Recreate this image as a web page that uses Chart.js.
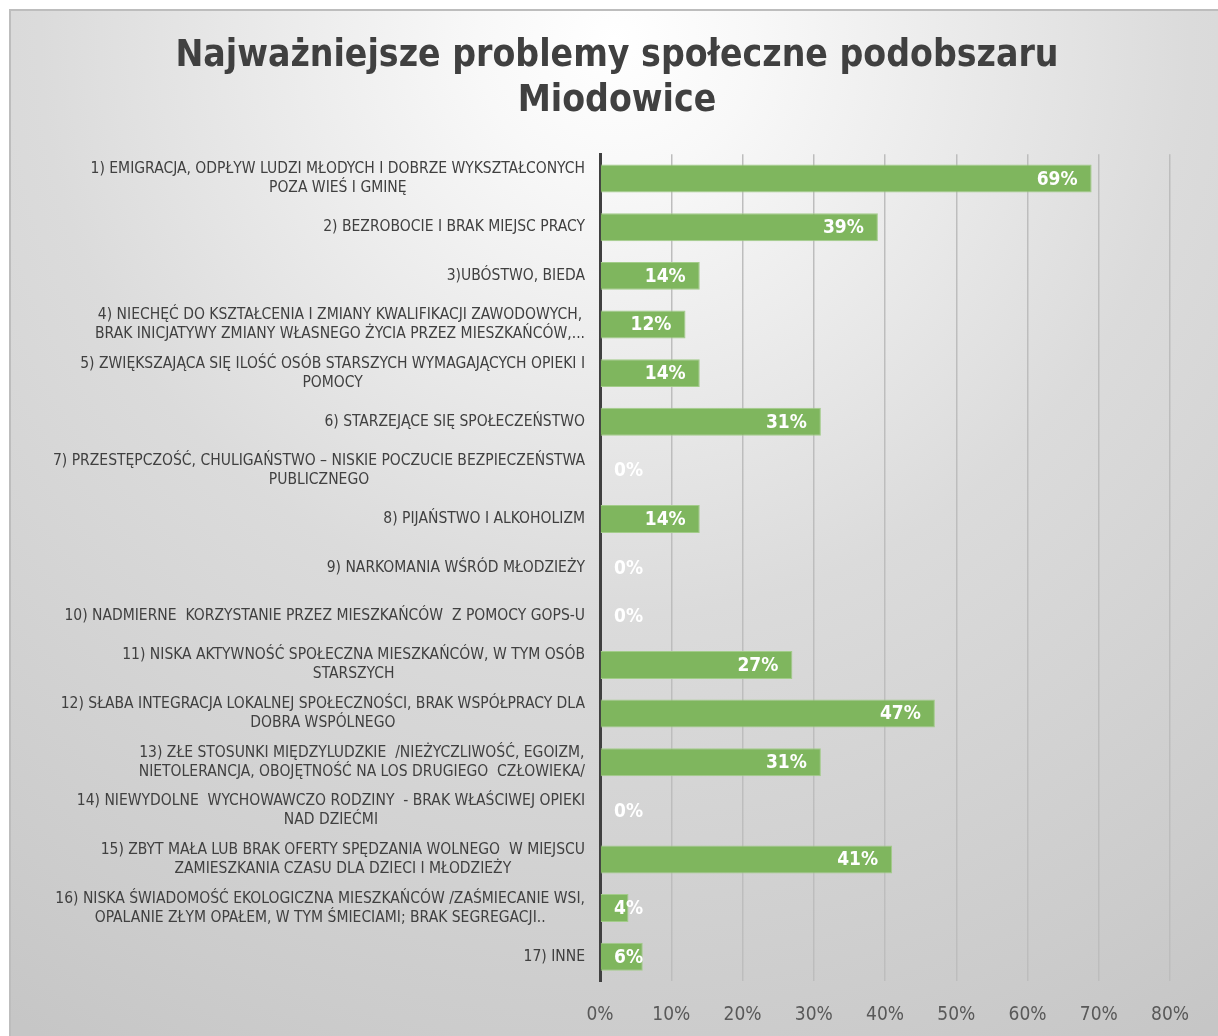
<!DOCTYPE html>
<html>
<head>
<meta charset="utf-8">
<script src="https://cdn.jsdelivr.net/npm/chart.js@4.4.1/dist/chart.umd.min.js"></script>
<style>
  html, body { margin: 0; padding: 0; background: #ffffff; overflow: hidden; }
  #wrap { width: 1218px; height: 1036px; position: relative; }
</style>
</head>
<body>
<div id="wrap"><canvas id="problemyChart"></canvas></div>
<script>
// Categories (each one split into the lines shown on the axis)
const categories = [
  ["1) EMIGRACJA, ODPŁYW LUDZI MŁODYCH I DOBRZE WYKSZTAŁCONYCH", "POZA WIEŚ I GMINĘ"],
  ["2) BEZROBOCIE I BRAK MIEJSC PRACY"],
  ["3)UBÓSTWO, BIEDA"],
  ["4) NIECHĘĆ DO KSZTAŁCENIA I ZMIANY KWALIFIKACJI ZAWODOWYCH,", "BRAK INICJATYWY ZMIANY WŁASNEGO ŻYCIA PRZEZ MIESZKAŃCÓW,..."],
  ["5) ZWIĘKSZAJĄCA SIĘ ILOŚĆ OSÓB STARSZYCH WYMAGAJĄCYCH OPIEKI I", "POMOCY"],
  ["6) STARZEJĄCE SIĘ SPOŁECZEŃSTWO"],
  ["7) PRZESTĘPCZOŚĆ, CHULIGAŃSTWO – NISKIE POCZUCIE BEZPIECZEŃSTWA", "PUBLICZNEGO"],
  ["8) PIJAŃSTWO I ALKOHOLIZM"],
  ["9) NARKOMANIA WŚRÓD MŁODZIEŻY"],
  ["10) NADMIERNE  KORZYSTANIE PRZEZ MIESZKAŃCÓW  Z POMOCY GOPS-U"],
  ["11) NISKA AKTYWNOŚĆ SPOŁECZNA MIESZKAŃCÓW, W TYM OSÓB", "STARSZYCH"],
  ["12) SŁABA INTEGRACJA LOKALNEJ SPOŁECZNOŚCI, BRAK WSPÓŁPRACY DLA", "DOBRA WSPÓLNEGO"],
  ["13) ZŁE STOSUNKI MIĘDZYLUDZKIE  /NIEŻYCZLIWOŚĆ, EGOIZM,", "NIETOLERANCJA, OBOJĘTNOŚĆ NA LOS DRUGIEGO  CZŁOWIEKA/"],
  ["14) NIEWYDOLNE  WYCHOWAWCZO RODZINY  - BRAK WŁAŚCIWEJ OPIEKI", "NAD DZIEĆMI"],
  ["15) ZBYT MAŁA LUB BRAK OFERTY SPĘDZANIA WOLNEGO  W MIEJSCU", "ZAMIESZKANIA CZASU DLA DZIECI I MŁODZIEŻY"],
  ["16) NISKA ŚWIADOMOŚĆ EKOLOGICZNA MIESZKAŃCÓW /ZAŚMIECANIE WSI,", "OPALANIE ZŁYM OPAŁEM, W TYM ŚMIECIAMI; BRAK SEGREGACJI.."],
  ["17) INNE"]
];

// Share of answers, percent
const values = [69, 39, 14, 12, 14, 31, 0, 14, 0, 0, 27, 47, 31, 0, 41, 4, 6];

// X axis
const xMax = 80;
const xStep = 10;

const titleLines = ["Najważniejsze problemy społeczne podobszaru", "Miodowice"];

const FONT = '"DejaVu Sans Condensed", "Liberation Sans Narrow", "DejaVu Sans", sans-serif';

// background: white page, grey frame, radial grey gradient
const backgroundPlugin = {
  id: 'bg',
  beforeDraw(chart) {
    const ctx = chart.ctx;
    const w = chart.width, h = chart.height;
    ctx.save();
    ctx.fillStyle = '#ffffff';
    ctx.fillRect(0, 0, w, h);
    const g = ctx.createRadialGradient(615, 40, 0, 615, 40, 1150);
    g.addColorStop(0, '#ffffff');
    g.addColorStop(0.12, '#f8f8f8');
    g.addColorStop(0.5, '#dbdbdb');
    g.addColorStop(0.87, '#cccccc');
    g.addColorStop(1, '#c6c6c6');
    ctx.fillStyle = g;
    ctx.fillRect(9, 9, w - 9, h - 9);
    ctx.fillStyle = '#bdbdbd';
    ctx.fillRect(9, 9, w - 9, 2);
    ctx.fillRect(9, 9, 2, h - 9);
    ctx.restore();
  }
};

// category labels: block right-aligned at the axis, lines centred inside the block
const categoryLabelPlugin = {
  id: 'catLabels',
  afterDraw(chart) {
    const ctx = chart.ctx;
    const y = chart.scales.y;
    const right = chart.chartArea.left - 15;
    const lh = 19;
    ctx.save();
    ctx.font = '15.5px ' + FONT;
    ctx.fillStyle = '#404040';
    ctx.textAlign = 'center';
    ctx.textBaseline = 'middle';
    categories.forEach((lines, i) => {
      const cy = y.getPixelForTick(i);
      const maxW = Math.max(...lines.map(l => ctx.measureText(l).width));
      const cx = right - maxW / 2;
      const top = cy - (lines.length - 1) * lh / 2;
      lines.forEach((l, k) => ctx.fillText(l, cx, top + k * lh));
    });
    ctx.restore();
  }
};

// value labels inside end of the bar, pushed right when the bar is too short
const valueLabelPlugin = {
  id: 'valueLabels',
  afterDatasetsDraw(chart) {
    const ctx = chart.ctx;
    const meta = chart.getDatasetMeta(0);
    const base = chart.scales.x.getPixelForValue(0);
    ctx.save();
    ctx.font = 'bold 19px ' + FONT;
    ctx.fillStyle = '#ffffff';
    ctx.textAlign = 'left';
    ctx.textBaseline = 'middle';
    meta.data.forEach((bar, i) => {
      const txt = values[i] + '%';
      const w = ctx.measureText(txt).width;
      const left = Math.max(bar.x - 14 - w, base + 14);
      ctx.fillText(txt, left, bar.y + 1);
    });
    ctx.restore();
  }
};

const config = {
  type: 'bar',
  data: {
    labels: categories,
    datasets: [{
      data: values,
      backgroundColor: '#7fb65e',
      borderColor: '#a3cc8a',
      borderWidth: 1,
      barPercentage: 0.575,
      categoryPercentage: 1
    }]
  },
  options: {
    indexAxis: 'y',
    responsive: true,
    maintainAspectRatio: false,
    animation: false,
    layout: { padding: { left: 64, right: 48, top: 0, bottom: 9 } },
    plugins: {
      legend: { display: false },
      tooltip: { enabled: false },
      title: {
        display: true,
        text: titleLines,
        color: '#404040',
        font: { family: FONT, size: 37, weight: 'bold', lineHeight: 1.22 },
        padding: { top: 34, bottom: 30 }
      }
    },
    scales: {
      x: {
        min: 0,
        max: xMax,
        ticks: {
          stepSize: xStep,
          padding: 23,
          color: '#595959',
          font: { family: FONT, size: 19 },
          callback: v => v + '%'
        },
        grid: { color: '#bdbdbd', lineWidth: 1.5, drawTicks: false },
        border: { display: false },
        afterFit(scale) { scale.height = 46; }
      },
      y: {
        ticks: { display: false },
        grid: { display: false },
        border: { display: true, color: '#404040', width: 3 },
        afterFit(scale) { scale.width = 536; }
      }
    }
  },
  plugins: [backgroundPlugin, categoryLabelPlugin, valueLabelPlugin]
};

window.addEventListener('DOMContentLoaded', () => {
  const problemyChart = new Chart(document.getElementById('problemyChart'), config);
});
</script>
</body>
</html>
